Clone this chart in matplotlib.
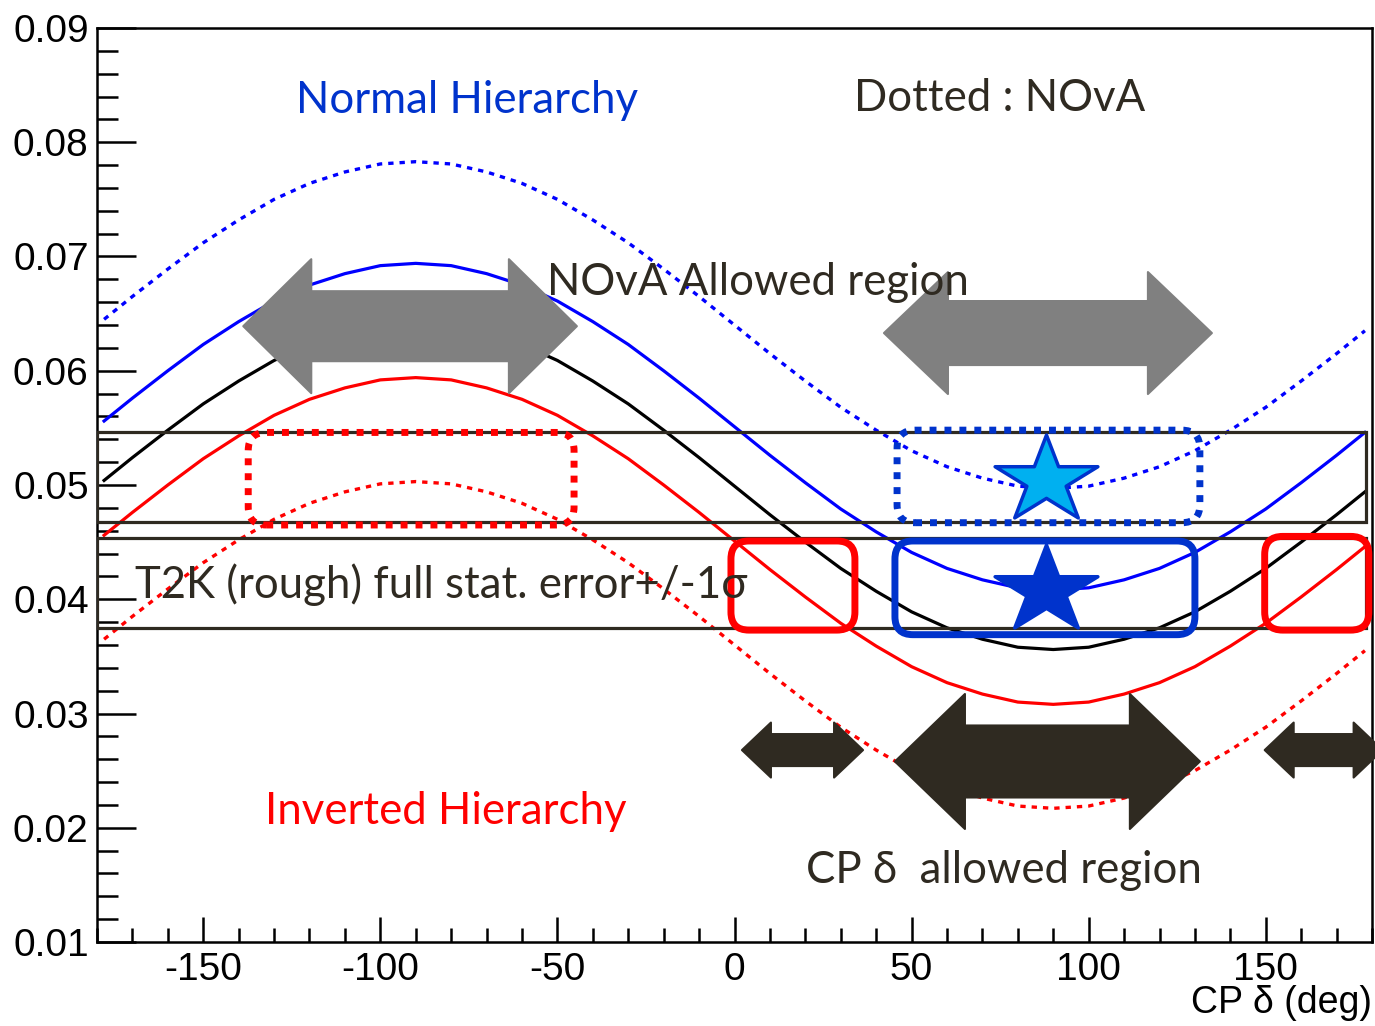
import numpy as np
import matplotlib
matplotlib.use('Agg')
import matplotlib.pyplot as plt
from matplotlib.patches import FancyBboxPatch, Polygon, Rectangle
from matplotlib.path import Path
from matplotlib.ticker import MultipleLocator

# CP delta (deg) and appearance probability
delta = [-178, -170, -160, -150, -140, -130, -120, -110, -100, -90, -80, -70, -60, -50, -40, -30, -20, -10,
         0, 10, 20, 30, 40, 50, 60, 70, 80, 90, 100, 110, 120, 130, 140, 150, 160, 170, 178]
t2k_nh = [0.0556, 0.0576, 0.0600, 0.0623, 0.0643, 0.0661, 0.0675, 0.0685, 0.0692, 0.0694, 0.0692, 0.0685,
          0.0675, 0.0661, 0.0643, 0.0623, 0.0600, 0.0576, 0.0551, 0.0526, 0.0502, 0.0479, 0.0459, 0.0441,
          0.0427, 0.0417, 0.0410, 0.0408, 0.0410, 0.0417, 0.0427, 0.0441, 0.0459, 0.0479, 0.0502, 0.0526, 0.0546]
t2k_mid = [0.0504, 0.0524, 0.0548, 0.0571, 0.0591, 0.0609, 0.0623, 0.0633, 0.0640, 0.0642, 0.0640, 0.0633,
           0.0623, 0.0609, 0.0591, 0.0571, 0.0548, 0.0524, 0.0499, 0.0474, 0.0450, 0.0427, 0.0407, 0.0389,
           0.0375, 0.0365, 0.0358, 0.0356, 0.0358, 0.0365, 0.0375, 0.0389, 0.0407, 0.0427, 0.0450, 0.0474, 0.0494]
t2k_ih = [0.0456, 0.0476, 0.0500, 0.0523, 0.0543, 0.0561, 0.0575, 0.0585, 0.0592, 0.0594, 0.0592, 0.0585,
          0.0575, 0.0561, 0.0543, 0.0523, 0.0500, 0.0476, 0.0451, 0.0426, 0.0402, 0.0379, 0.0359, 0.0341,
          0.0327, 0.0317, 0.0310, 0.0308, 0.0310, 0.0317, 0.0327, 0.0341, 0.0359, 0.0379, 0.0402, 0.0426, 0.0446]
nova_nh = [0.0645, 0.0665, 0.0689, 0.0712, 0.0732, 0.0750, 0.0764, 0.0774, 0.0781, 0.0783, 0.0781, 0.0774,
           0.0764, 0.0750, 0.0732, 0.0712, 0.0689, 0.0665, 0.0640, 0.0615, 0.0591, 0.0568, 0.0548, 0.0530,
           0.0516, 0.0506, 0.0499, 0.0497, 0.0499, 0.0506, 0.0516, 0.0530, 0.0548, 0.0568, 0.0591, 0.0615, 0.0635]
nova_ih = [0.0365, 0.0385, 0.0409, 0.0432, 0.0452, 0.0470, 0.0484, 0.0494, 0.0501, 0.0503, 0.0501, 0.0494,
           0.0484, 0.0470, 0.0452, 0.0432, 0.0409, 0.0385, 0.0360, 0.0335, 0.0311, 0.0288, 0.0268, 0.0250,
           0.0236, 0.0226, 0.0219, 0.0217, 0.0219, 0.0226, 0.0236, 0.0250, 0.0268, 0.0288, 0.0311, 0.0335, 0.0355]

# T2K +/-1 sigma bands (probability ranges)
t2k_bands = [(0.0468, 0.0546), (0.0375, 0.0454)]
# highlighted regions: (delta_lo, delta_hi, p_lo, p_hi)
nova_ih_box = (-137.3, -45.3, 0.0465, 0.0546)
nova_nh_box = (45.9, 131.4, 0.0467, 0.0548)
t2k_nh_box = (45.3, 130.0, 0.0369, 0.0451)
t2k_ih_boxes = [(-1.0, 34.0, 0.0373, 0.0451), (149.7, 179.1, 0.0373, 0.0455)]
# allowed delta ranges drawn as arrows
nova_allowed = [(-138.7, -44.5, 0.0639), (42.2, 134.8, 0.0633)]
cp_allowed = [(2.1, 36.3, 0.0268), (45.3, 131.4, 0.0258), (149.7, 183.0, 0.0268)]
star_delta = [88, 88]
star_prob = [0.0508, 0.0412]

dark = '#2f2a21'
nh_blue = '#0033cc'
ann_font = ['Lato', 'DejaVu Sans']
plt.rcParams['font.family'] = ['Liberation Sans', 'DejaVu Sans']
plt.rcParams['axes.unicode_minus'] = False

fig = plt.figure(figsize=(13.75, 10.26), dpi=100)
ax = fig.add_axes([97 / 1375, 84 / 1026, 1275 / 1375, 914 / 1026])
ax.set_xlim(-180, 180)
ax.set_ylim(0.01, 0.09)

ax.xaxis.set_major_locator(MultipleLocator(50))
ax.xaxis.set_minor_locator(MultipleLocator(10))
ax.yaxis.set_major_locator(MultipleLocator(0.01))
ax.yaxis.set_minor_locator(MultipleLocator(0.002))
ax.yaxis.set_major_formatter(plt.FuncFormatter(lambda v, p: '%.2f' % v))
ax.tick_params(axis='both', which='both', direction='in', width=1.8, colors='black', labelsize=28,
               top=False, right=False)
ax.tick_params(axis='y', which='major', length=28, pad=6)
ax.tick_params(axis='y', which='minor', length=15)
ax.tick_params(axis='x', which='major', length=18, pad=7)
ax.tick_params(axis='x', which='minor', length=10)
for s in ax.spines.values():
    s.set_linewidth(1.8)
ax.text(1.0, -0.067, 'CP δ (deg)', transform=ax.transAxes, ha='right', va='center', fontsize=27)

# curves
ax.plot(delta, nova_nh, color='blue', lw=2.4, ls=(0, (1.6, 1.8)), zorder=2)
ax.plot(delta, nova_ih, color='red', lw=2.4, ls=(0, (1.6, 1.8)), zorder=2)
ax.plot(delta, t2k_nh, color='blue', lw=2.3, zorder=2)
ax.plot(delta, t2k_mid, color='black', lw=2.3, zorder=2)
ax.plot(delta, t2k_ih, color='red', lw=2.3, zorder=2)

# pixel scale of the data units
p0 = ax.transData.transform((0, 0))
p1 = ax.transData.transform((1, 1))
sx, sy = p1[0] - p0[0], p1[1] - p0[1]

for lo, hi in t2k_bands:
    ax.add_patch(Rectangle((-180, lo), 178.2 + 180, hi - lo, fill=False, edgecolor=dark, lw=2.3, zorder=3))


def round_box(b, color, dotted=False):
    x0, x1, y0, y1 = b
    kw = dict(ls=(0, (1, 1.15)), capstyle='butt') if dotted else {}
    ax.add_patch(FancyBboxPatch((x0, y0), x1 - x0, y1 - y0,
                                boxstyle='round,pad=0,rounding_size=%f' % (18 / sx),
                                mutation_aspect=sx / sy, fill=False, edgecolor=color, lw=5,
                                zorder=4, clip_on=False, **kw))


round_box(nova_ih_box, 'red', dotted=True)
round_box(nova_nh_box, nh_blue, dotted=True)
round_box(t2k_nh_box, nh_blue)
for b in t2k_ih_boxes:
    round_box(b, 'red')


def double_arrow(x0, x1, yc, head_len, head_half, shaft_half, color):
    hl, hh, sh = head_len / sx, head_half / sy, shaft_half / sy
    pts = [(x0, yc), (x0 + hl, yc + hh), (x0 + hl, yc + sh), (x1 - hl, yc + sh), (x1 - hl, yc + hh),
           (x1, yc), (x1 - hl, yc - hh), (x1 - hl, yc - sh), (x0 + hl, yc - sh), (x0 + hl, yc - hh)]
    ax.add_patch(Polygon(pts, closed=True, facecolor=color, edgecolor=color, lw=1.5, joinstyle='round',
                         zorder=5, clip_on=False))


double_arrow(*nova_allowed[0], 68, 67, 35, '#808080')
double_arrow(*nova_allowed[1], 64, 61, 32, '#808080')
double_arrow(*cp_allowed[0], 29, 27.5, 16, dark)
double_arrow(*cp_allowed[1], 70, 67.5, 36, dark)
double_arrow(*cp_allowed[2], 29, 27.5, 16, dark)

# star markers
ang = np.deg2rad(90 + 36 * np.arange(10))
rad = np.where(np.arange(10) % 2 == 0, 1.0, 0.382)
sv = np.column_stack([rad * np.cos(ang) * 1.18, rad * np.sin(ang) - 0.0955])
star = Path(np.vstack([sv, sv[:1]]), closed=True)
ax.plot(star_delta[0], star_prob[0], marker=star, ms=74, mfc='#00b0f0', mec=nh_blue, mew=2.5, ls='none', zorder=6)
ax.plot(star_delta[1], star_prob[1], marker=star, ms=74, mfc=nh_blue, mec=nh_blue, mew=2.5, ls='none', zorder=6)

fs = 31.5
ax.text(-75.6, 0.0826, 'Normal Hierarchy', color=nh_blue, fontsize=fs, ha='center', va='baseline', family=ann_font, zorder=7)
ax.text(74.9, 0.0827, 'Dotted : NOvA', color=dark, fontsize=fs, ha='center', va='baseline', family=ann_font, zorder=7)
ax.text(6.5, 0.0666, 'NOvA Allowed region', color=dark, fontsize=fs, ha='center', va='baseline', family=ann_font, zorder=7)
ax.text(-169.2, 0.0401, 'T2K (rough) full stat. error+/-1σ', color=dark, fontsize=fs, ha='left', va='baseline',
        family=ann_font, zorder=7)
ax.text(-81.6, 0.0203, 'Inverted Hierarchy', color='red', fontsize=fs, ha='center', va='baseline', family=ann_font, zorder=7)
ax.text(76.0, 0.0152, 'CP δ  allowed region', color=dark, fontsize=fs, ha='center', va='baseline', family=ann_font, zorder=7)

fig.savefig('out.png', dpi=100)
